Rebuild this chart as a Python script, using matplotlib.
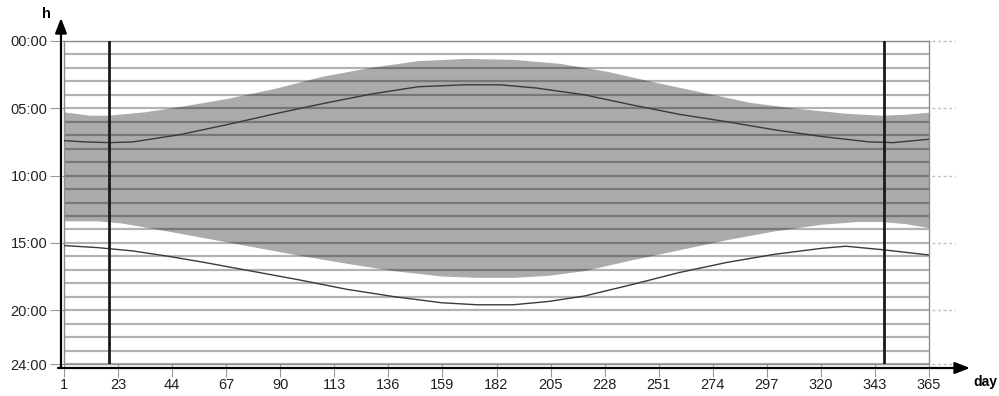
import numpy as np
import matplotlib
matplotlib.use("Agg")
import matplotlib.pyplot as plt
import matplotlib.transforms as mtransforms

plt.rcParams["font.family"] = ["Liberation Sans", "DejaVu Sans"]

# top edge of the grey band (hours)
band_top_days = [1, 12, 20, 35, 50, 70, 90, 110, 130, 150, 170, 190, 210, 230,
                 250, 270, 290, 310, 330, 345, 355, 365]
band_top_hours = [5.3, 5.55, 5.55, 5.3, 4.9, 4.3, 3.55, 2.65, 2.0, 1.5, 1.33, 1.4,
                  1.7, 2.3, 3.1, 3.85, 4.6, 5.05, 5.4, 5.55, 5.48, 5.33]

# bottom edge of the grey band (hours)
band_bot_days = [1, 15, 25, 40, 60, 80, 100, 120, 140, 160, 175, 190, 205, 220,
                 240, 260, 280, 300, 320, 335, 345, 355, 365]
band_bot_hours = [13.4, 13.4, 13.55, 14.0, 14.65, 15.3, 15.95, 16.55, 17.1, 17.5,
                  17.6, 17.6, 17.45, 17.1, 16.3, 15.55, 14.8, 14.15, 13.65, 13.45,
                  13.45, 13.6, 13.9]

# upper thin curve
upper_days = [1, 10, 20, 30, 50, 70, 90, 110, 130, 150, 170, 185, 200, 220, 240,
              260, 280, 300, 320, 340, 350, 365]
upper_hours = [7.4, 7.5, 7.55, 7.5, 6.95, 6.2, 5.4, 4.65, 3.95, 3.4, 3.25, 3.26,
               3.5, 4.0, 4.75, 5.45, 6.0, 6.6, 7.1, 7.5, 7.55, 7.3]

# lower thin curve
lower_days = [1, 15, 30, 45, 60, 80, 100, 120, 140, 160, 175, 190, 205, 220, 240,
              260, 280, 300, 320, 330, 345, 365]
lower_hours = [15.2, 15.35, 15.6, 16.0, 16.45, 17.1, 17.75, 18.45, 19.0, 19.45,
               19.6, 19.6, 19.35, 18.95, 18.1, 17.2, 16.45, 15.85, 15.4, 15.25,
               15.5, 15.9]

marker_days = [20, 346]

x_tick_labels = ["1", "23", "44", "67", "90", "113", "136", "159", "182", "205",
                 "228", "251", "274", "297", "320", "343", "365"]
y_ticks = [0, 5, 10, 15, 20, 24]
y_tick_labels = ["00:00", "05:00", "10:00", "15:00", "20:00", "24:00"]

W, H = 999, 396
fig = plt.figure(figsize=(W / 100, H / 100), dpi=100)
ax = fig.add_axes([64 / W, 1 - 364 / H, (929 - 64) / W, (364 - 41) / H])
ax.set_xlim(1, 365)
ax.set_ylim(24, 0)

# grey band
poly_x = np.concatenate([band_top_days, band_bot_days[::-1]])
poly_y = np.concatenate([band_top_hours, band_bot_hours[::-1]])
ax.fill(poly_x, poly_y, color="#ababab", lw=0, zorder=1)

# hourly grid lines
for h in range(25):
    ax.axhline(h, color="black", alpha=0.3, lw=1.6, zorder=2)

ax.plot(upper_days, upper_hours, color="#3a3a3a", lw=1.0, zorder=3)
ax.plot(lower_days, lower_hours, color="#3a3a3a", lw=1.0, zorder=3)

for d in marker_days:
    ax.axvline(d, color="#1a1a1a", lw=2.0, zorder=4)

for s in ax.spines.values():
    s.set_color("#8c8c8c")
    s.set_linewidth(1.0)

ax.set_xticks(np.linspace(1, 365, len(x_tick_labels)))
ax.set_xticklabels(x_tick_labels, fontsize=10.5, color="#222222")
ax.set_yticks(y_ticks)
ax.set_yticklabels(y_tick_labels, fontsize=10.5, color="#222222")
ax.tick_params(axis="x", length=9, color="#9a9a9a", pad=1)
ax.tick_params(axis="y", length=10, color="#9a9a9a", pad=2)

# faint dashes on the right side
trans = mtransforms.blended_transform_factory(ax.transAxes, ax.transData)
for h in y_ticks:
    ax.plot([1.004, 1.03], [h, h], transform=trans, color="#bdbdbd", lw=1,
            ls=(0, (2, 2)), clip_on=False)

# axis arrows
ax.annotate("", xy=(61 / W, 1 - 18 / H), xytext=(61 / W, 1 - 368 / H),
            xycoords="figure fraction", textcoords="figure fraction",
            arrowprops=dict(arrowstyle="-|>,head_width=0.35,head_length=0.9",
                            color="black", lw=1.6, shrinkA=0, shrinkB=0))
ax.annotate("", xy=(970 / W, 1 - 368 / H), xytext=(58 / W, 1 - 368 / H),
            xycoords="figure fraction", textcoords="figure fraction",
            arrowprops=dict(arrowstyle="-|>,head_width=0.35,head_length=0.9",
                            color="black", lw=1.6, shrinkA=0, shrinkB=0))

fig.text(46 / W, 1 - 14 / H, "h", fontsize=10.5, fontweight="bold",
         ha="center", va="center")
fig.text(973 / W, 1 - 382 / H, "day", fontsize=10, fontweight="bold",
         ha="left", va="center")

fig.savefig("out.png", dpi=100)
